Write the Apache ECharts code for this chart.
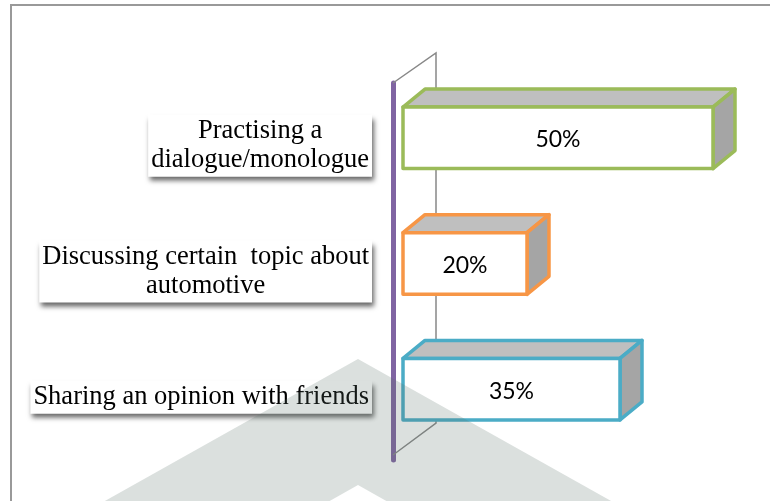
<!DOCTYPE html>
<html>
<head>
<meta charset="utf-8">
<script src="https://cdn.jsdelivr.net/npm/echarts@6/dist/echarts.min.js"></script>
<style>
    html, body { margin: 0; padding: 0; background: #fff; }
    #chart { width: 770px; height: 501px; }
</style>
</head>
<body>
<div id="chart"></div>
<script>
// 数据
const categories = [
    'Practising a\ndialogue/monologue',
    'Discussing certain  topic about\nautomotive',
    'Sharing an opinion with friends'
]
const values = [50, 20, 35]
const barColors = ['#9bbb59', '#f79646', '#4bacc6']

// 布局
const gridLeft = 393
const gridTop = 83
const gridBottom = 41
const depthX = 22   // 柱子厚度
const depthY = 18
const barGap = 10   // 柱子离坐标轴距离

const chart = echarts.init(document.getElementById('chart'))

// 3D 柱子
const renderBar = (params, api) => {
    const idx = api.value(0)
    const val = api.value(1)
    const start = api.coord([0, idx])
    const end = api.coord([val, idx])
    const h = api.size([0, 1])[1] * 0.49
    const x0 = start[0] + barGap
    const x1 = end[0] + barGap
    const yc = start[1] - 8
    const yT = yc - h / 2
    const yB = yc + h / 2
    const color = barColors[idx]
    const stroke = { stroke: color, lineWidth: 3.5, lineJoin: 'round' }
    return {
        type: 'group',
        children: [
            {
                type: 'polygon',
                shape: { points: [[x0, yT], [x0 + depthX, yT - depthY], [x1 + depthX, yT - depthY], [x1, yT]] },
                style: Object.assign({ fill: '#bfbfbf' }, stroke)
            },
            {
                type: 'polygon',
                shape: { points: [[x1, yT], [x1 + depthX, yT - depthY], [x1 + depthX, yB - depthY], [x1, yB]] },
                style: Object.assign({ fill: '#a5a5a5' }, stroke)
            },
            {
                type: 'rect',
                shape: { x: x0, y: yT, width: x1 - x0, height: yB - yT },
                style: Object.assign({ fill: '#fff' }, stroke)
            },
            {
                type: 'text',
                x: (x0 + x1) / 2,
                y: yc + 2,
                style: {
                    text: val + '%',
                    fill: '#000',
                    font: '23px Lato, "Open Sans", sans-serif',
                    align: 'center',
                    verticalAlign: 'middle'
                }
            }
        ]
    }
}

const wallTop = gridTop
const wallBottom = 501 - gridBottom - 5

const option = {
    animation: false,
    grid: {
        left: gridLeft,
        top: gridTop,
        right: 36,
        bottom: gridBottom
    },
    xAxis: {
        type: 'value',
        min: 0,
        max: 55,
        show: false
    },
    yAxis: {
        type: 'category',
        data: categories,
        inverse: true,
        axisTick: { show: false },
        axisLine: {
            lineStyle: { color: '#8064a2', width: 5, cap: 'round' }
        },
        axisLabel: {
            interval: 0,
            margin: 21,
            formatter: v => v.split('\n').map(s => '{t|' + s + '}').join('\n'),
            rich: {
                t: {
                    align: 'center',
                    fontFamily: '"Liberation Serif", "DejaVu Serif", serif',
                    fontSize: 26.5,
                    lineHeight: 29,
                    color: '#000'
                }
            },
            backgroundColor: '#fff',
            padding: [2, 3],
            shadowColor: 'rgba(0, 0, 0, 0.6)',
            shadowBlur: 5,
            shadowOffsetX: 2,
            shadowOffsetY: 4
        }
    },
    graphic: [
        {
            type: 'rect',
            z: 0,
            shape: { x: 11, y: 5, width: 800, height: 600 },
            style: { fill: 'none', stroke: '#999', lineWidth: 2 }
        },
        {
            // 背景墙
            type: 'polyline',
            z: 1,
            shape: {
                points: [
                    [gridLeft, wallTop],
                    [gridLeft + 43, wallTop - 30],
                    [gridLeft + 43, wallBottom - 32],
                    [gridLeft, wallBottom]
                ]
            },
            style: { stroke: '#888', lineWidth: 1.5, fill: 'none' }
        },
        {
            // 水印
            type: 'polygon',
            z: 100,
            silent: true,
            shape: {
                points: [[71, 520], [358, 359], [645, 520], [420, 520], [358, 485], [296, 520]]
            },
            style: { fill: 'rgba(90, 115, 105, 0.22)' }
        }
    ],
    series: [
        {
            type: 'custom',
            z: 5,
            renderItem: renderBar,
            encode: { x: 1, y: 0 },
            data: values.map((v, i) => [i, v])
        }
    ]
}

chart.setOption(option)
</script>
</body>
</html>
